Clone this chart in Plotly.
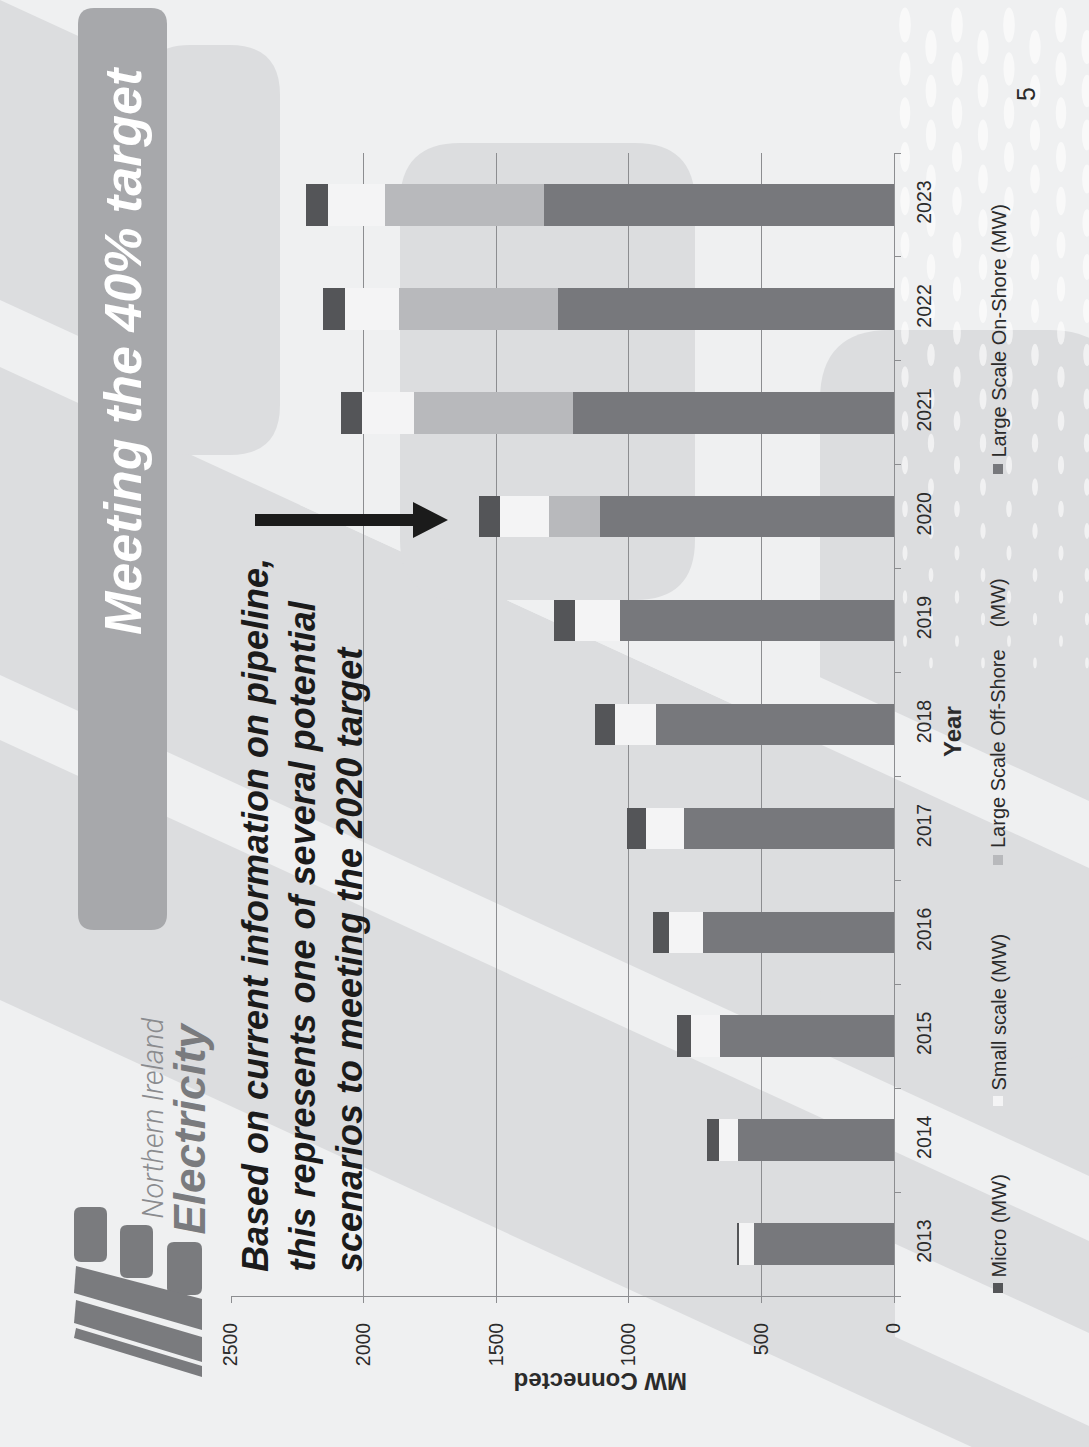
import plotly.graph_objects as go

# ---------------- data ----------------
years = ["2013", "2014", "2015", "2016", "2017", "2018", "2019", "2020", "2021", "2022", "2023"]
onshore = [527, 587, 655, 720, 791, 896, 1033, 1108, 1211, 1266, 1321]
offshore = [0, 0, 0, 0, 0, 0, 0, 194, 600, 600, 600]
small = [58, 74, 110, 130, 146, 157, 170, 183, 194, 205, 215]
micro = [5, 44, 53, 60, 71, 76, 78, 79, 79, 81, 82]

series_names = ["Large Scale On-Shore (MW)", "Large Scale Off-Shore (MW)", "Small scale (MW)", "Micro (MW)"]
series_values = [onshore, offshore, small, micro]
series_colors = ["#77787c", "#b8b9bc", "#f4f4f5", "#545558"]
value_ticks = [0, 500, 1000, 1500, 2000, 2500]

# ---------------- geometry helpers (pixel -> paper) ----------------
FW, FH = 1089, 1447
L, R, T, B = 231, 894, 153, 1296


def X(px):
    return (px - L) / (R - L)


def Y(py):
    return (B - py) / (B - T)


def P(x, y):
    return f"{X(x):.5f},{Y(y):.5f}"


def rrect(x0, y0, x1, y1, r):
    return (f"M {P(x0 + r, y0)} L {P(x1 - r, y0)} Q {P(x1, y0)} {P(x1, y0 + r)} "
            f"L {P(x1, y1 - r)} Q {P(x1, y1)} {P(x1 - r, y1)} L {P(x0 + r, y1)} "
            f"Q {P(x0, y1)} {P(x0, y1 - r)} L {P(x0, y0 + r)} Q {P(x0, y0)} {P(x0 + r, y0)} Z")


def poly(pts):
    return "M " + " L ".join(P(x, y) for x, y in pts) + " Z"


def band(c1, c2, xa, xb, s=0.46):
    return poly([(xa, s * xa + c1), (xb, s * xb + c1), (xb, s * xb + c2), (xa, s * xa + c2)])


DARK = "#dcdddf"
LIGHT = "#eff0f1"
shapes = []


def add_path(path, color, layer="below", opacity=1.0):
    shapes.append(dict(type="path", path=path, xref="paper", yref="paper",
                       fillcolor=color, line=dict(width=0), layer=layer, opacity=opacity))


# background decoration
add_path(band(0, 300, -60, 200), DARK)
add_path(band(367, 675, -60, 1160), DARK)
add_path(band(740, 1000, -60, 1160), DARK)
add_path(rrect(820, 330, 1120, 1060, 70), DARK)
add_path(band(300, 367, 300, 1160), LIGHT)
add_path(band(832, 925, 895, 1160), LIGHT)
add_path(rrect(140, 45, 280, 455, 50), DARK)
add_path(rrect(400, 143, 695, 600, 60), DARK)

# dotted pattern top right
for i, xc in enumerate(range(905, 1100, 26)):
    for j, yc in enumerate(range(25, 680, 44)):
        ycc = yc + (i % 2) * 22
        k = 1.0 - ycc / 950.0
        w, h = 12 * k, 36 * k
        shapes.append(dict(type="circle", xref="paper", yref="paper",
                           x0=X(xc - w / 2), x1=X(xc + w / 2), y0=Y(ycc + h / 2), y1=Y(ycc - h / 2),
                           fillcolor="#ffffff", line=dict(width=0), layer="below", opacity=0.6))

# title bar
add_path(rrect(78, 8, 167, 930, 16), "#a7a8ab")

# logo
LOGO = "#7a7b7e"
add_path(rrect(74, 1207, 107, 1262, 7), LOGO)
add_path(rrect(120, 1225, 153, 1278, 7), LOGO)
add_path(rrect(167, 1242, 202, 1295, 7), LOGO)
add_path(poly([(76, 1266), (202, 1299), (202, 1330), (74, 1293)]), LOGO)
add_path(poly([(76, 1300), (202, 1337), (202, 1362), (74, 1323)]), LOGO)
add_path(poly([(76, 1328), (202, 1366), (202, 1377), (74, 1338)]), LOGO)

# arrow
add_path(poly([(255, 514), (413, 514), (413, 502), (448, 520), (413, 538), (413, 526), (255, 526)]),
         "#1b1b1b", layer="above")

# ---------------- traces ----------------
fig = go.Figure()
for name, vals, col in zip(series_names, series_values, series_colors):
    fig.add_trace(go.Bar(y=years, x=vals, orientation="h", name=name, width=0.4,
                         marker=dict(color=col, line=dict(width=0)), showlegend=False))

# ---------------- annotations ----------------
ann = []
TXT = "#2b2b2b"
FONT = "Liberation Sans, Arial, sans-serif"


def A(text, x, y, size, color=TXT, angle=-90, xa="center", ya="middle", family=FONT):
    ann.append(dict(text=text, x=X(x), y=Y(y), xref="paper", yref="paper", showarrow=False,
                    textangle=angle, xanchor=xa, yanchor=ya,
                    font=dict(size=size, color=color, family=family)))


A("<b><i>Meeting the 40% target</i></b>", 123, 351, 52, color="#ffffff")
A("<b><i>Based on current information on pipeline,</i></b>", 255, 1274, 36, color="#1b1b1b", ya="bottom")
A("<b><i>this represents one of several potential</i></b>", 302, 1274, 36, color="#1b1b1b", ya="bottom")
A("<b><i>scenarios to meeting the 2020 target</i></b>", 349, 1274, 36, color="#1b1b1b", ya="bottom")
A("<i>Northern Ireland</i>", 152, 1221, 29, color="#8a8b8e", ya="bottom", family="Roboto Light, Roboto, sans-serif")
A("<b><i>Electricity</i></b>", 189, 1237, 44, color="#7a7b7e", ya="bottom")
A("<b>Year</b>", 952, 731, 24)
A("<b>MW Connected</b>", 601, 1382, 24, angle=180)
A("5", 1026, 94, 25)

# manual legend (rotated)
legend_items = [(series_names[3], series_colors[3], 1288, 1280),
                (series_names[2], series_colors[2], 1101, 1093),
                ("Large Scale Off-Shore\u00a0\u00a0\u00a0\u00a0(MW)", series_colors[1], 860, 850),
                (series_names[0], series_colors[0], 469, 460)]
for text, col, my, ty in legend_items:
    shapes.append(dict(type="rect", xref="paper", yref="paper", x0=X(993), x1=X(1003),
                       y0=Y(my + 5), y1=Y(my - 5), fillcolor=col, line=dict(width=0), layer="above"))
    A(text, 998, ty, 20, ya="bottom")

AX = "#8c8d90"
fig.update_layout(
    width=FW, height=FH, autosize=False,
    margin=dict(l=L, r=FW - R, t=T, b=FH - B, pad=0),
    paper_bgcolor=LIGHT, plot_bgcolor="rgba(0,0,0,0)",
    barmode="stack",
    font=dict(family=FONT, color=TXT),
    shapes=shapes, annotations=ann,
    xaxis=dict(range=[2500, 0], tickvals=value_ticks, ticktext=[str(v) for v in value_ticks],
               tickangle=-90, showgrid=True, gridcolor=AX, gridwidth=1, zeroline=False,
               showline=True, linecolor=AX, linewidth=1, ticks="outside", ticklen=6, tickcolor=AX,
               ticklabelstandoff=12, tickfont=dict(size=19.5, color=TXT), fixedrange=True),
    yaxis=dict(type="category", categoryorder="array", categoryarray=years, range=[-0.5, 10.5],
               side="right", tickangle=-90, showgrid=False, zeroline=False,
               showline=True, linecolor=AX, linewidth=1, ticks="outside", tickson="boundaries",
               ticklen=6, tickcolor=AX, ticklabelstandoff=13,
               tickfont=dict(size=19.5, color=TXT), fixedrange=True),
)

fig.write_html("out.html", config={"displayModeBar": False},
               post_script="document.body.style.margin='0';document.body.style.overflow='hidden';")
